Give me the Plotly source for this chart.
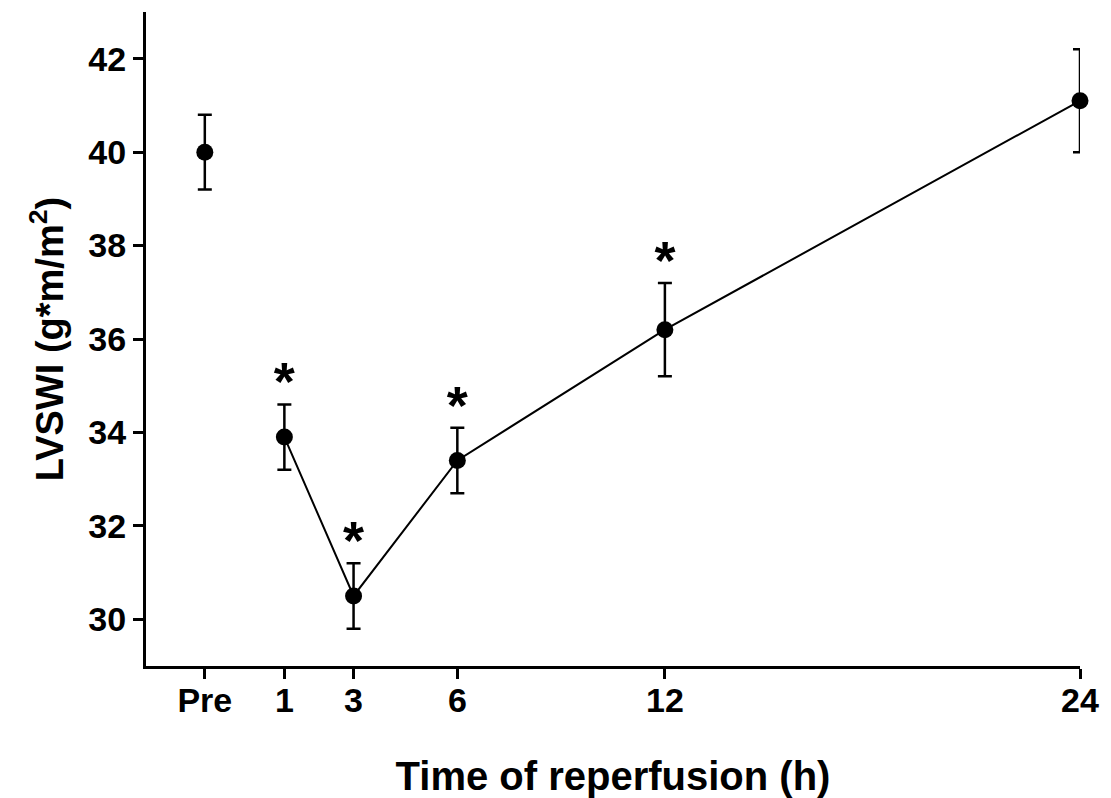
import plotly.graph_objects as go

# Data
time_labels = ["Pre", "1", "3", "6", "12", "24"]
time_pos = [-1.3, 1, 3, 6, 12, 24]
lvswi_mean = [40.0, 33.9, 30.5, 33.4, 36.2, 41.1]
lvswi_sem = [0.8, 0.7, 0.7, 0.7, 1.0, 1.1]
significant = [False, True, True, True, True, False]

FONT = "Liberation Sans, Arial, sans-serif"
STAR_OFFSET = -0.2  # data units relative to upper error cap

fig = go.Figure()

# Pre-ischemia point (not connected)
fig.add_trace(go.Scatter(
    x=time_pos[:1], y=lvswi_mean[:1],
    mode="markers",
    marker=dict(size=17, color="black"),
    error_y=dict(type="data", array=lvswi_sem[:1], color="black", thickness=2.5, width=7),
    cliponaxis=False, showlegend=False,
))

# Reperfusion time course
fig.add_trace(go.Scatter(
    x=time_pos[1:], y=lvswi_mean[1:],
    mode="lines+markers",
    line=dict(color="black", width=2),
    marker=dict(size=17, color="black"),
    error_y=dict(type="data", array=lvswi_sem[1:], color="black", thickness=2.5, width=7),
    cliponaxis=False, showlegend=False,
))

# Significance stars
sx = [x for x, s in zip(time_pos, significant) if s]
sy = [m + e + STAR_OFFSET for m, e, s in zip(lvswi_mean, lvswi_sem, significant) if s]
fig.add_trace(go.Scatter(
    x=sx, y=sy, mode="text", text=["*"] * len(sx),
    textposition="top center",
    textfont=dict(family=FONT, size=54, color="black", weight="bold"),
    cliponaxis=False, showlegend=False, hoverinfo="skip",
))

fig.update_layout(
    width=1111, height=798,
    margin=dict(l=146, r=31, t=12, b=132, autoexpand=False),
    plot_bgcolor="white", paper_bgcolor="white",
    font=dict(family=FONT, color="black", size=34, weight="bold"),
    xaxis=dict(
        range=[-3, 24], tickmode="array", tickvals=time_pos, ticktext=time_labels,
        automargin=False, ticklabelstandoff=-8,
        showgrid=False, zeroline=False, showline=True, linecolor="black", linewidth=3,
        ticks="outside", ticklen=10, tickwidth=3, tickcolor="black",
        tickfont=dict(family=FONT, size=34, color="black", weight="bold"),
        title=dict(text="Time of reperfusion (h)", standoff=48,
                   font=dict(family=FONT, size=40, color="black", weight="bold")),
    ),
    yaxis=dict(
        range=[29, 43], tickmode="array", tickvals=[30, 32, 34, 36, 38, 40, 42],
        automargin=False,
        showgrid=False, zeroline=False, showline=True, linecolor="black", linewidth=3,
        ticks="outside", ticklen=10, tickwidth=3, tickcolor="black",
        tickfont=dict(family=FONT, size=34, color="black", weight="bold"),
        title=dict(text="LVSWI (g*m/m<sup>2</sup>)", standoff=14,
                   font=dict(family=FONT, size=38, color="black", weight="bold")),
    ),
)

fig.write_html("out.html")
